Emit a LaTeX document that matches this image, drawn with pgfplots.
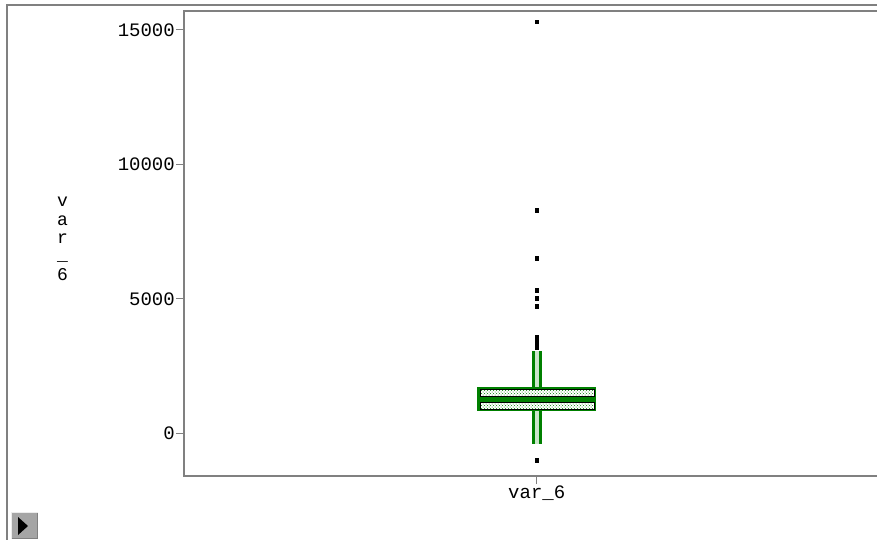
\documentclass[border=0pt]{standalone}
\usepackage{pgfplots}
\pgfplotsset{compat=1.18}
\usepgfplotslibrary{statistics}
\usetikzlibrary{patterns}
\usepackage{fontspec}
\setmainfont{Liberation Mono}
\definecolor{bxgreen}{RGB}{0,128,0}
\definecolor{axgray}{RGB}{128,128,128}
\definecolor{btngray}{RGB}{165,165,165}
\begin{document}
\begin{tikzpicture}[x=1pt,y=1pt]
\useasboundingbox (0,0) rectangle (877,539);
% outer frame
\draw[axgray, line width=2pt] (7,-5) -- (7,534) -- (895,534);
% small play button
\fill[btngray] (11,0) rectangle (38,27);
\draw[white!85!gray, line width=1.2pt] (11.6,0) -- (11.6,26.4) -- (38,26.4);
\draw[gray, line width=1pt] (12,0.5) -- (37.5,0.5) -- (37.5,26);
\fill[black] (18,22) -- (18,4) -- (28,13) -- cycle;
% y label (stacked letters)
\node[font=\fontsize{18}{18.5}\selectfont, align=center, inner sep=0pt] at (62.5,300) {v\\a\\r\\\raisebox{2pt}{\_}\\6};
\begin{axis}[at={(184pt,63pt)}, anchor=south west, scale only axis,
  width=700pt, height=465pt,
  xmin=-352.7, xmax=347.3, ymin=-1588, ymax=15706,
  xtick={0}, xticklabels={var\_6},
  ytick={0,5000,10000,15000},
  tick pos=left, tick align=outside, major tick length=8pt,
  tick style={axgray, line width=1pt},
  axis line style={axgray, line width=1.5pt},
  scaled y ticks=false,
  /pgf/number format/1000 sep={},
  /pgf/number format/assume math mode=true,
  yticklabel style={font=\fontsize{19}{20}\selectfont, inner xsep=1pt},
  xticklabel style={font=\fontsize{19}{20}\selectfont, inner ysep=2pt},
  boxplot/draw direction=y,
  clip=false,
]
% main box with whiskers and outliers
\addplot[
  boxplot prepared={
    lower whisker=-398, lower quartile=867, median=1276,
    upper quartile=1722, upper whisker=3061,
    draw position=0, box extend=118, whisker extend=0
  },
  boxplot/every box/.style={draw=bxgreen, fill=bxgreen, line width=0.5pt},
  boxplot/every median/.style={draw=bxgreen, line width=5pt},
  boxplot/every whisker/.style={draw=bxgreen, line width=3pt, double=white!80!bxgreen, double distance=4pt},
  mark=square*, mark size=1.75pt, mark options={draw=black, fill=black},
] table[row sep=\\, y index=0] {
v\\ 15307\\ 8304\\ 6508\\ 5329\\ 5021\\ 4734\\
3600\\ 3550\\ 3490\\ 3430\\ 3370\\ 3310\\ 3250\\ 3190\\ -992\\
};
% white dotted strips inside the box (upper quartile to median, median to lower quartile)
\addplot[
  boxplot prepared={
    lower whisker=1387, lower quartile=1387, median=1500,
    upper quartile=1648, upper whisker=1648,
    draw position=0, box extend=114, whisker extend=0
  },
  boxplot/every box/.style={draw=none, fill=white, postaction={pattern=crosshatch dots, pattern color=bxgreen}},
  boxplot/every median/.style={draw=none},
  boxplot/every whisker/.style={draw=none},
] coordinates {};
\addplot[
  boxplot prepared={
    lower whisker=901, lower quartile=901, median=1000,
    upper quartile=1164, upper whisker=1164,
    draw position=0, box extend=114, whisker extend=0
  },
  boxplot/every box/.style={draw=none, fill=white, postaction={pattern=crosshatch dots, pattern color=bxgreen}},
  boxplot/every median/.style={draw=none},
  boxplot/every whisker/.style={draw=none},
] coordinates {};
\end{axis}
\end{tikzpicture}
\end{document}
